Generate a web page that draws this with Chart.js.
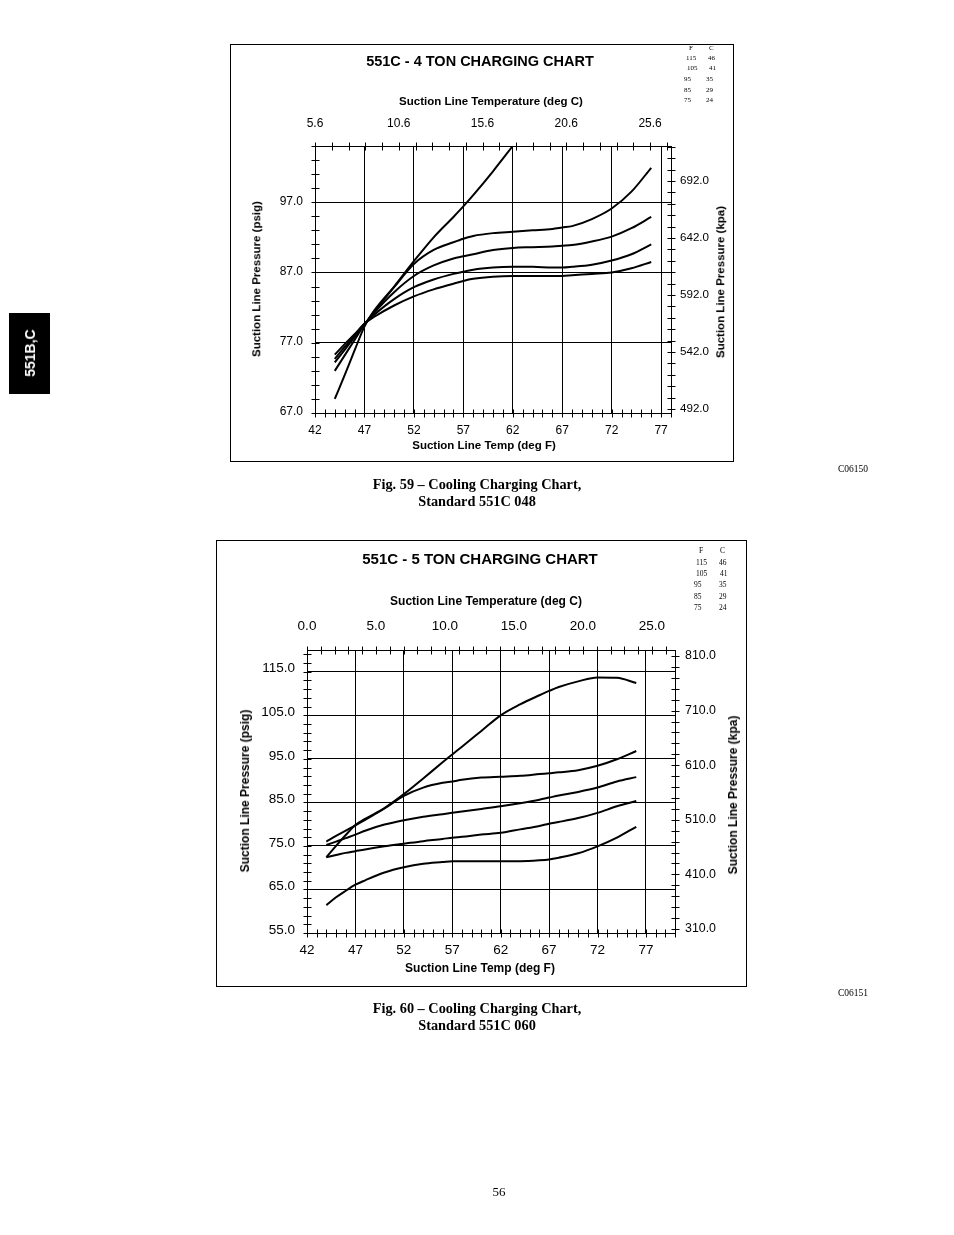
<!DOCTYPE html>
<html><head><meta charset="utf-8">
<script src="https://cdn.jsdelivr.net/npm/chart.js@4.4.1/dist/chart.umd.min.js"></script>
<style>
html,body{margin:0;padding:0;background:#fff;}
body{width:954px;height:1235px;position:relative;overflow:hidden;font-family:"Liberation Sans",Arial,Helvetica,sans-serif;color:#000;-webkit-font-smoothing:antialiased;}
.abs{position:absolute;white-space:nowrap;line-height:1;will-change:transform;}
.c{transform:translate(-50%,-50%);}
.rot{transform:translate(-50%,-50%) rotate(-90deg);}
.t{transform:translateY(-50%);}
.b{font-weight:bold;}
.serif{font-family:"Liberation Serif","Times New Roman",serif;}
.box{position:absolute;border:1px solid #000;box-sizing:border-box;}
canvas{position:absolute;}
</style></head><body>

<!-- side tab -->
<div class="abs" style="left:9px;top:313px;width:41px;height:81px;background:#000;"></div>
<div class="abs b rot" style="left:30px;top:353px;font-size:14px;color:#fff;">551B,C</div>

<!-- chart 1 frame and texts -->
<div class="box" style="left:230px;top:44px;width:504px;height:418px;"></div>
<canvas id="c1" width="501" height="415" style="left:231px;top:45px;"></canvas>
<div class="abs b c" style="left:480px;top:61px;font-size:14.5px;">551C - 4 TON CHARGING CHART</div>
<div class="abs b c" style="left:491px;top:102px;font-size:11.5px;">Suction Line Temperature (deg C)</div>
<div class="abs b c" style="left:483.5px;top:446px;font-size:11.5px;">Suction Line Temp (deg F)</div>
<div class="abs b rot" style="left:257px;top:278.5px;font-size:11.5px;">Suction Line Pressure (psig)</div>
<div class="abs b rot" style="left:721px;top:282px;font-size:11.5px;">Suction Line Pressure (kpa)</div>
<div class="abs serif t" style="left:689px;top:47.5px;font-size:7px;">F</div>
<div class="abs serif t" style="left:709px;top:47.5px;font-size:7px;">C</div>
<div class="abs serif t" style="left:686px;top:58px;font-size:7px;">115</div>
<div class="abs serif t" style="left:708px;top:58px;font-size:7px;">46</div>
<div class="abs serif t" style="left:687px;top:68px;font-size:7px;">105</div>
<div class="abs serif t" style="left:709px;top:68px;font-size:7px;">41</div>
<div class="abs serif t" style="left:684px;top:79px;font-size:7px;">95</div>
<div class="abs serif t" style="left:706px;top:79px;font-size:7px;">35</div>
<div class="abs serif t" style="left:684px;top:90px;font-size:7px;">85</div>
<div class="abs serif t" style="left:706px;top:90px;font-size:7px;">29</div>
<div class="abs serif t" style="left:684px;top:100px;font-size:7px;">75</div>
<div class="abs serif t" style="left:706px;top:100px;font-size:7px;">24</div>
<div class="abs serif c" style="left:853px;top:470px;font-size:9.5px;">C06150</div>
<div class="abs serif b c" style="left:477px;top:484px;font-size:14.3px;">Fig. 59 &#8211; Cooling Charging Chart,</div>
<div class="abs serif b c" style="left:477px;top:501px;font-size:14.3px;">Standard 551C 048</div>

<!-- chart 2 frame and texts -->
<div class="box" style="left:216px;top:540px;width:531px;height:447px;"></div>
<canvas id="c2" width="529" height="445" style="left:217px;top:541px;"></canvas>
<div class="abs b c" style="left:479.5px;top:558px;font-size:15px;">551C - 5 TON CHARGING CHART</div>
<div class="abs b c" style="left:485.5px;top:601px;font-size:12px;">Suction Line Temperature (deg C)</div>
<div class="abs b c" style="left:480px;top:968px;font-size:12px;">Suction Line Temp (deg F)</div>
<div class="abs b rot" style="left:244.5px;top:791px;font-size:12px;">Suction Line Pressure (psig)</div>
<div class="abs b rot" style="left:732.5px;top:795px;font-size:12px;">Suction Line Pressure (kpa)</div>
<div class="abs serif t" style="left:699px;top:551px;font-size:7.5px;">F</div>
<div class="abs serif t" style="left:720px;top:551px;font-size:7.5px;">C</div>
<div class="abs serif t" style="left:696px;top:563px;font-size:7.5px;">115</div>
<div class="abs serif t" style="left:719px;top:563px;font-size:7.5px;">46</div>
<div class="abs serif t" style="left:696px;top:574px;font-size:7.5px;">105</div>
<div class="abs serif t" style="left:720px;top:574px;font-size:7.5px;">41</div>
<div class="abs serif t" style="left:694px;top:585px;font-size:7.5px;">95</div>
<div class="abs serif t" style="left:719px;top:585px;font-size:7.5px;">35</div>
<div class="abs serif t" style="left:694px;top:597px;font-size:7.5px;">85</div>
<div class="abs serif t" style="left:719px;top:597px;font-size:7.5px;">29</div>
<div class="abs serif t" style="left:694px;top:608px;font-size:7.5px;">75</div>
<div class="abs serif t" style="left:719px;top:608px;font-size:7.5px;">24</div>
<div class="abs serif c" style="left:853px;top:994px;font-size:9.5px;">C06151</div>
<div class="abs serif b c" style="left:477px;top:1008px;font-size:14.3px;">Fig. 60 &#8211; Cooling Charging Chart,</div>
<div class="abs serif b c" style="left:477px;top:1025px;font-size:14.3px;">Standard 551C 060</div>

<div class="abs serif c" style="left:499px;top:1191px;font-size:13px;">56</div>

<script>
// ===== Chart 1: 551C 4 ton =====
const temps4 = [44,45,46,47,48,50,52,54,56,57,58,60,62,64,66,67,68,70,72,74,76];
const ton4_115 = [69.0,72.4,75.9,79.3,81.6,85.0,88.6,92.0,94.9,96.4,98.0,101.4,105.0,null,null,null,null,null,null,null,null];
const ton4_105 = [73.0,75.2,77.4,79.6,81.4,84.9,88.2,90.2,91.3,91.8,92.2,92.6,92.8,93.0,93.2,93.4,93.6,94.6,96.1,98.5,101.9];
const ton4_95  = [74.2,76.0,77.8,79.6,81.3,84.2,86.5,88.0,89.0,89.3,89.6,90.2,90.5,90.6,90.7,90.8,90.9,91.4,92.1,93.3,94.9];
const ton4_85  = [74.7,76.4,78.0,79.7,81.0,83.2,84.9,86.0,86.8,87.1,87.4,87.7,87.8,87.8,87.7,87.7,87.8,88.1,88.7,89.6,91.0];
const ton4_75  = [75.3,76.8,78.2,79.7,80.7,82.3,83.6,84.6,85.4,85.8,86.1,86.4,86.5,86.5,86.5,86.5,86.6,86.8,87.0,87.6,88.5];
const fTicks4   = [42,47,52,57,62,67,72,77];
const cTicks4   = [5.6,10.6,15.6,20.6,25.6];
const psigTicks4 = [67,77,87,97];
const kpaTicks4  = [492,542,592,642,692];

// ===== Chart 2: 551C 5 ton =====
const temps5 = [44,45,46,47,48,50,52,54,56,57,58,60,62,64,66,67,68,70,72,74,76];
const ton5_115 = [72.4,75.0,77.5,79.8,81.2,83.7,86.9,90.5,94.2,96.0,97.8,101.4,105.0,107.5,109.6,110.6,111.5,112.8,113.7,113.6,112.4];
const ton5_105 = [76.0,77.3,78.5,79.7,81.0,83.6,86.5,88.4,89.5,89.8,90.2,90.7,90.9,91.1,91.5,91.7,91.9,92.4,93.4,94.9,96.8];
const ton5_95  = [75.2,76.0,76.8,77.6,78.5,79.9,80.9,81.7,82.3,82.6,82.9,83.5,84.1,84.8,85.6,86.1,86.6,87.4,88.4,89.8,90.8];
const ton5_85  = [72.4,72.9,73.4,73.8,74.2,74.9,75.5,76.1,76.6,76.9,77.1,77.6,78.0,78.8,79.6,80.1,80.5,81.4,82.6,84.1,85.3];
const ton5_75  = [61.4,63.2,64.7,66.1,67.1,68.9,70.1,70.9,71.3,71.5,71.5,71.5,71.5,71.5,71.7,71.9,72.3,73.3,74.9,76.9,79.4];
const fTicks5   = [42,47,52,57,62,67,72,77];
const cTicks5   = [0,5,10,15,20,25];
const psigTicks5 = [55,65,75,85,95,105,115];
const kpaTicks5  = [310,410,510,610,710,810];

const pts = (xs, ys) => xs.map((x, i) => ({x: x, y: ys[i]}));

// crossing tick marks drawn at scale positions
const minorTicks = {
  id: 'minorTicks',
  afterDraw(chart, args, opts) {
    const ctx = chart.ctx;
    ctx.save();
    ctx.strokeStyle = '#000';
    ctx.lineWidth = 1;
    ctx.beginPath();
    for (const s of opts.specs) {
      const sc = chart.scales[s.axis];
      const n = Math.round((s.to - s.from) / s.step);
      for (let k = 0; k <= n; k++) {
        const v = s.from + k * s.step;
        const p = Math.round(sc.getPixelForValue(v)) + 0.5;
        if (sc.isHorizontal()) {
          const y = Math.round(sc.position === 'top' ? sc.bottom : sc.top) + 0.5;
          ctx.moveTo(p, y - 4); ctx.lineTo(p, y + 4);
        } else {
          const x = Math.round(sc.position === 'left' ? sc.right : sc.left) + 0.5;
          ctx.moveTo(x - 4, p); ctx.lineTo(x + 4, p);
        }
      }
    }
    ctx.stroke();
    ctx.restore();
  }
};

function lineDs(label, xs, ys) {
  return {label: label, data: pts(xs, ys), borderColor: '#000', borderWidth: 2,
          pointRadius: 0, fill: false, cubicInterpolationMode: 'monotone',
          xAxisID: 'x', yAxisID: 'y'};
}

function build(id, c) {
  const font = {family: '"Liberation Sans", Arial, sans-serif', size: c.fontSize};
  const kfont = {family: '"Liberation Sans", Arial, sans-serif', size: c.kpaFontSize};
  const setTicks = arr => s => { s.ticks = arr.map(v => ({value: v})); };
  new Chart(document.getElementById(id), {
    type: 'line',
    data: {datasets: c.datasets},
    options: {
      responsive: false, animation: false, devicePixelRatio: 1, events: [],
      layout: {padding: 0},
      plugins: {legend: {display: false}, tooltip: {enabled: false}, minorTicks: {specs: c.minor}},
      scales: {
        x: {type: 'linear', position: 'bottom', min: c.xMin, max: c.xMax, bounds: 'data',
            afterBuildTicks: setTicks(c.fTicks), afterFit: s => { s.height = c.bottomH; },
            grid: {color: '#000', lineWidth: 1, drawTicks: false},
            border: {color: '#000', width: 1},
            ticks: {font: font, color: '#000', padding: c.bottomPad, maxRotation: 0, autoSkip: false,
                    callback: v => String(v)}},
        x2: {type: 'linear', position: 'top', min: c.cMin, max: c.cMax, bounds: 'data', display: true,
            afterBuildTicks: setTicks(c.cTicks), afterFit: s => { s.height = c.topH; },
            grid: {drawOnChartArea: false, drawTicks: false},
            border: {color: '#000', width: 1},
            ticks: {font: font, color: '#000', padding: c.topPad, maxRotation: 0, autoSkip: false,
                    callback: v => v.toFixed(1)}},
        y: {type: 'linear', position: 'left', min: c.yMin, max: c.yMax, bounds: 'data',
            afterBuildTicks: setTicks(c.psigTicks), afterFit: s => { s.width = c.leftW; },
            grid: {color: '#000', lineWidth: 1, drawTicks: false},
            border: {color: '#000', width: 1},
            ticks: {font: font, color: '#000', padding: 12, autoSkip: false, labelOffset: c.psigOffset,
                    callback: v => v.toFixed(1)}},
        y2: {type: 'linear', position: 'right', min: c.kMin, max: c.kMax, bounds: 'data', display: true,
            afterBuildTicks: setTicks(c.kpaTicks), afterFit: s => { s.width = c.rightW; },
            grid: {drawOnChartArea: false, drawTicks: false},
            border: {color: '#000', width: 1},
            ticks: {font: kfont, color: '#000', padding: c.rightPad, autoSkip: false,
                    callback: v => v.toFixed(1)}}
      }
    },
    plugins: [minorTicks]
  });
}

build('c1', {
  datasets: [
    lineDs('115 F', temps4, ton4_115),
    lineDs('105 F', temps4, ton4_105),
    lineDs('95 F', temps4, ton4_95),
    lineDs('85 F', temps4, ton4_85),
    lineDs('75 F', temps4, ton4_75)
  ],
  fTicks: fTicks4, cTicks: cTicks4, psigTicks: psigTicks4, kpaTicks: kpaTicks4,
  xMin: 42, xMax: 78, cMin: 5.6, cMax: 26.85, yMin: 67, yMax: 105, kMin: 488.5, kMax: 722.7,
  leftW: 84, rightW: 61, topH: 101, bottomH: 47,
  fontSize: 12, kpaFontSize: 11.6, bottomPad: 10, topPad: 15, rightPad: 9, psigOffset: -1,
  minor: [
    {axis: 'x', from: 42, to: 78, step: 1},
    {axis: 'x2', from: 5.6, to: 26.6, step: 1},
    {axis: 'y', from: 67, to: 105, step: 2},
    {axis: 'y2', from: 492, to: 722, step: 10}
  ]
});

build('c2', {
  datasets: [
    lineDs('115 F', temps5, ton5_115),
    lineDs('105 F', temps5, ton5_105),
    lineDs('95 F', temps5, ton5_95),
    lineDs('85 F', temps5, ton5_85),
    lineDs('75 F', temps5, ton5_75)
  ],
  fTicks: fTicks5, cTicks: cTicks5, psigTicks: psigTicks5, kpaTicks: kpaTicks5,
  xMin: 42, xMax: 80, cMin: 0, cMax: 26.67, yMin: 55, yMax: 120, kMin: 302.7, kMax: 821,
  leftW: 90, rightW: 71, topH: 109, bottomH: 53,
  fontSize: 13.5, kpaFontSize: 12.4, bottomPad: 9, topPad: 16, rightPad: 10, psigOffset: -3,
  minor: [
    {axis: 'x', from: 42, to: 80, step: 1},
    {axis: 'x2', from: 0, to: 26, step: 1},
    {axis: 'y', from: 55, to: 119, step: 2},
    {axis: 'y2', from: 310, to: 810, step: 20}
  ]
});
</script>
</body></html>
